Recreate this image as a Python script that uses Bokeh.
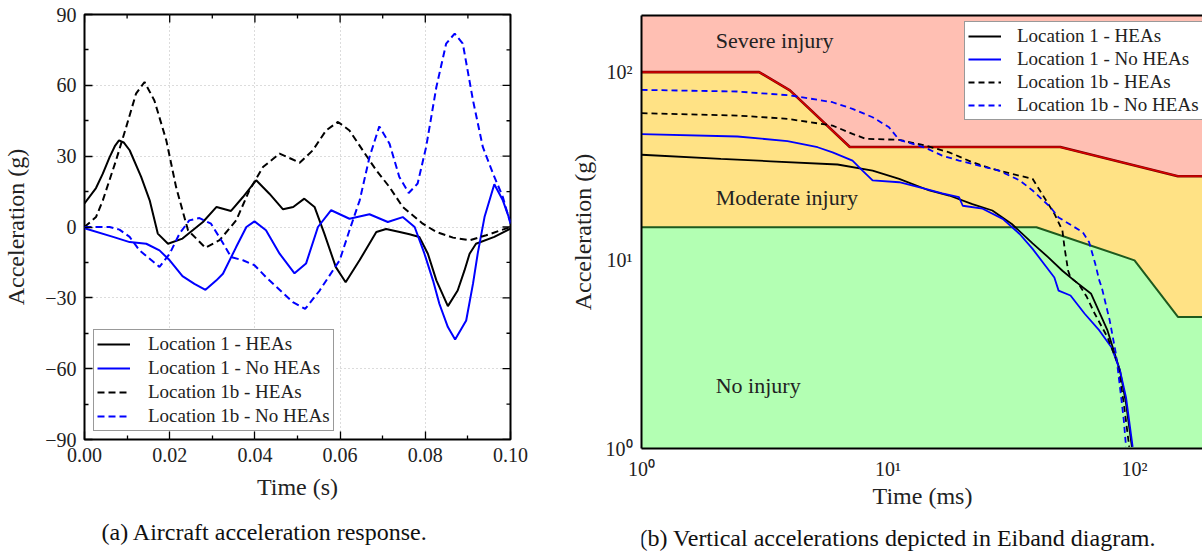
import math
from bokeh.plotting import figure
from bokeh.models import (FixedTicker, CustomJSTickFormatter, LogAxis,
                          Legend, LegendItem, Label)
from bokeh.layouts import row, column
from bokeh.embed import file_html
from bokeh.resources import INLINE

SERIF = "Liberation Serif"

# ---------------- panel (a): acceleration vs time ----------------
series_names = ["Location 1 - HEAs", "Location 1 - No HEAs",
                "Location 1b - HEAs", "Location 1b - No HEAs"]

a_t_l1_heas = [0.0, 0.0027, 0.0043, 0.0059, 0.0072, 0.0081, 0.0092, 0.0106, 0.0133, 0.0153,
               0.0172, 0.0196, 0.023, 0.0278, 0.031, 0.0344, 0.0372, 0.0403, 0.0434, 0.0466,
               0.049, 0.0516, 0.054, 0.0563, 0.059, 0.0613, 0.0646, 0.0685, 0.0708, 0.074,
               0.0763, 0.0786, 0.0806, 0.0826, 0.0853, 0.0876, 0.0892, 0.0904, 0.0919, 0.0962,
               0.1]
a_v_l1_heas = [10.0, 16.5, 22.6, 29.6, 34.5, 36.7, 35.8, 32.5, 21.2, 11.3,
               -2.8, -7.1, -4.9, 2.1, 8.5, 6.8, 12.7, 19.8, 14.1, 7.5,
               8.5, 12.0, 8.5, -2.8, -17.0, -23.4, -14.0, -2.1, -0.85, -2.1,
               -3.1, -4.2, -11.3, -22.6, -33.5, -26.9, -18.4, -11.3, -7.1, -4.2,
               -0.7]

a_t_l1_no = [0.0, 0.0067, 0.0106, 0.0145, 0.0176, 0.02, 0.023, 0.0258, 0.0284, 0.0309,
             0.0325, 0.0356, 0.038, 0.0399, 0.0426, 0.0458, 0.0493, 0.052, 0.0548, 0.0579,
             0.0622, 0.0669, 0.0712, 0.0747, 0.0775, 0.0798, 0.0818, 0.0833, 0.0853, 0.087,
             0.0896, 0.0912, 0.0923, 0.0939, 0.0962, 0.0982, 0.1]
a_v_l1_no = [-0.5, -4.2, -6.4, -7.1, -9.9, -14.1, -20.8, -24.1, -26.6, -22.7,
             -19.8, -8.5, 0.0, 2.4, -1.4, -11.3, -19.6, -15.5, 0.0, 7.1,
             3.5, 5.4, 2.1, 4.2, 0.0, -11.3, -22.6, -32.5, -42.4, -47.6,
             -39.6, -24.0, -11.3, 4.2, 18.1, 11.3, 2.1]

a_t_l1b_heas = [0.0, 0.0027, 0.0043, 0.0074, 0.0098, 0.0121, 0.0141, 0.0164, 0.0192, 0.0215,
                0.0243, 0.0284, 0.0317, 0.0356, 0.0387, 0.0419, 0.0458, 0.0485, 0.0505, 0.0536,
                0.0567, 0.0595, 0.0622, 0.0653, 0.0685, 0.0716, 0.0747, 0.0794, 0.0826, 0.0865,
                0.0904, 0.0943, 0.1]
a_v_l1b_heas = [0.0, 4.2, 11.3, 28.2, 42.4, 56.5, 61.4, 53.6, 36.7, 16.9,
                -1.4, -8.8, -5.6, 2.8, 15.5, 25.4, 31.1, 28.9, 27.2, 32.5,
                40.9, 44.5, 40.9, 32.5, 24.0, 16.9, 8.5, 1.4, -2.1, -4.5,
                -5.6, -3.5, 0.0]

a_t_l1b_no = [0.0, 0.0059, 0.0082, 0.0106, 0.0129, 0.0176, 0.02, 0.0223, 0.0246, 0.027,
              0.0297, 0.0321, 0.0344, 0.0372, 0.0399, 0.0426, 0.0489, 0.0518, 0.0552, 0.0583,
              0.0599, 0.0622, 0.0646, 0.0669, 0.0692, 0.0716, 0.0739, 0.0761, 0.0782, 0.0802,
              0.0826, 0.0849, 0.0869, 0.0888, 0.0912, 0.0935, 0.0959, 0.0982, 0.1]
a_v_l1b_no = [0.0, 0.0, -1.1, -4.2, -9.9, -16.9, -11.3, -2.8, 2.8, 3.8,
              1.4, -5.6, -12.7, -14.1, -16.2, -21.2, -31.8, -34.7, -26.9, -18.4,
              -14.1, -1.4, 11.3, 29.6, 42.6, 35.3, 21.2, 14.4, 18.4, 33.9,
              59.3, 77.7, 81.9, 77.7, 53.6, 33.9, 22.6, 12.7, 1.4]

a_xlim = (0.0, 0.1)
a_ylim = (-90, 90)
a_xticks = [0.0, 0.02, 0.04, 0.06, 0.08, 0.10]
a_xminor = [0.01, 0.03, 0.05, 0.07, 0.09]
a_yticks = [-90, -60, -30, 0, 30, 60, 90]
a_yminor = [-75, -45, -15, 15, 45, 75]

# ---------------- panel (b): Eiband diagram ----------------
b_t_l1_heas = [1, 2.1, 3.35, 6.24, 8.66, 11.1, 14.7, 17.7, 22.0, 26.5, 31.8, 38.6, 44.6, 51,
               57, 66.7, 77.7, 87.3, 92.4, 97.6]
b_a_l1_heas = [36.4, 34.6, 33.6, 32.3, 30.0, 27.1, 23.5, 22.1, 19.9, 18.4, 15.6, 12.3, 10.4, 8.8,
               7.8, 6.64, 4.24, 2.6, 1.73, 1.02]

b_t_l1_no = [1, 2.45, 3.91, 5.18, 5.96, 7.18, 7.88, 8.66, 11.1, 14.2, 16.6, 19.4, 20.1, 24.2,
             29.2, 34.2, 38.6, 47.3, 49.2, 55, 62.8, 72, 80.6, 87.3, 92.4, 98.3]
b_a_l1_no = [46.8, 45.5, 43.0, 39.9, 37.5, 33.9, 30.0, 26.6, 26.0, 24.0, 22.7, 21.7, 19.5, 18.8,
             16.6, 13.8, 11.5, 8.1, 6.9, 6.5, 5.2, 4.24, 3.45, 2.6, 1.87, 1.02]

b_t_l1b_heas = [1, 2.45, 3.91, 5.96, 7.18, 8.13, 11.1, 14.2, 17.7, 22, 26.5, 31.8, 38.6, 42.1,
                47.3, 51, 52, 53.8, 55, 59.3, 64, 69, 77.7, 85.6, 90.5, 95.2]
b_a_l1b_heas = [60.5, 58.8, 56.5, 52.0, 47.0, 44.2, 43.7, 40.7, 37.5, 33.2, 30.6, 28.8, 27.1, 22.6,
                17.7, 14.4, 11.7, 8.8, 8.1, 7.5, 6.4, 5.2, 3.9, 2.82, 1.73, 1.02]

b_t_l1b_no = [1, 2.45, 4.03, 5.96, 7.18, 8.66, 10.1, 11.1, 12.6, 14.2, 16.6, 19.4, 23.4, 28.1,
              34.2, 38.6, 45.5, 49.2, 61.7, 65.4, 69.3, 72, 73.6, 79.3, 84.1, 87.3, 90.5, 92.4]
b_a_l1b_no = [80.5, 78.9, 75.2, 69.2, 63.8, 57.6, 50.9, 43.7, 41.6, 39.6, 36.0, 33.9, 31.9, 30.0,
              26.6, 23.5, 19.2, 16.9, 14.1, 12.5, 9.6, 7.8, 7.2, 4.8, 3.18, 2.12, 1.41, 1.02]

# Eiband boundaries
severe_t = [1, 3, 4, 7, 50, 150, 300]
severe_a = [100, 100, 80, 40, 40, 28, 28]
moderate_t = [1, 40, 100, 150, 300]
moderate_a = [15, 15, 10, 5, 5]
b_xlim = (1, 190.5)
b_ylim = (1, 200)
b_ticks = [1, 10, 100]

zone_labels = ["Severe injury", "Moderate injury", "No injury"]
captions = ["(a) Aircraft acceleration response.",
            "(b) Vertical accelerations depicted in Eiband diagram."]

colors = ["black", "#0000ff", "black", "#0000ff"]
dashes = ["solid", "solid", "7 4", "7 4"]

# ================= figure (a) =================
pa = figure(frame_width=426, frame_height=425, x_range=a_xlim, y_range=a_ylim,
            min_border_left=82, min_border_right=52, min_border_top=14, min_border_bottom=71,
            toolbar_location=None, output_backend="svg",
            outline_line_color="black", outline_line_width=2, background_fill_color="white")

tick_fmt_x = CustomJSTickFormatter(code="return tick.toFixed(2);")
tick_fmt_y = CustomJSTickFormatter(
    code="return tick < 0 ? '\u2212' + Math.abs(tick).toFixed(0) : tick.toFixed(0);")

for ax, ticks, minor, fmt in ((pa.xaxis[0], a_xticks, a_xminor, tick_fmt_x),
                              (pa.yaxis[0], a_yticks, a_yminor, tick_fmt_y)):
    ax.ticker = FixedTicker(ticks=ticks, minor_ticks=minor)
    ax.formatter = fmt
    ax.major_tick_in = 8
    ax.major_tick_out = 0
    ax.minor_tick_in = 4
    ax.minor_tick_out = 0
    ax.major_tick_line_color = "black"
    ax.minor_tick_line_color = "black"
    ax.major_tick_line_width = 1.3
    ax.minor_tick_line_width = 1.3
    ax.axis_line_color = None
    ax.major_label_text_font = SERIF
    ax.major_label_text_font_size = "20px"
    ax.major_label_text_color = "#222222"
    ax.major_label_standoff = 8
    ax.axis_label_text_font = SERIF
    ax.axis_label_text_font_size = "24px"
    ax.axis_label_text_font_style = "normal"
    ax.axis_label_text_color = "#222222"
pa.xaxis[0].axis_label = "Time (s)"
pa.yaxis[0].axis_label = "Acceleration (g)"
pa.xaxis[0].axis_label_standoff = 9
pa.yaxis[0].axis_label_standoff = 13

# mirrored inward ticks on top and right edges (half of each marker is clipped by the frame)
n_xt, n_xm = len(a_xticks), len(a_xminor)
n_yt, n_ym = len(a_yticks), len(a_yminor)
pa.scatter(a_xticks, [a_ylim[1]] * n_xt, marker="dash", angle=math.pi / 2, size=16,
           line_color="black", line_width=1.3)
pa.scatter(a_xminor, [a_ylim[1]] * n_xm, marker="dash", angle=math.pi / 2, size=8,
           line_color="black", line_width=1.3)
pa.scatter([a_xlim[1]] * n_yt, a_yticks, marker="dash", angle=0, size=16,
           line_color="black", line_width=1.3)
pa.scatter([a_xlim[1]] * n_ym, a_yminor, marker="dash", angle=0, size=8,
           line_color="black", line_width=1.3)

pa.xgrid.ticker = FixedTicker(ticks=a_xticks)
pa.ygrid.ticker = FixedTicker(ticks=a_yticks)
for g in (pa.xgrid, pa.ygrid):
    g.grid_line_color = "#b8b8b8"
    g.grid_line_dash = "1 3"
    g.grid_line_width = 1

a_series = [(a_t_l1_heas, a_v_l1_heas), (a_t_l1_no, a_v_l1_no),
            (a_t_l1b_heas, a_v_l1b_heas), (a_t_l1b_no, a_v_l1b_no)]
a_items = []
for (xs, ys), name, c, d in zip(a_series, series_names, colors, dashes):
    r = pa.line(xs, ys, line_color=c, line_width=2, line_dash=d)
    a_items.append(LegendItem(label=name, renderers=[r]))

leg_a = Legend(items=a_items, location=(9, 8), label_text_font=SERIF, label_text_font_size="19px",
               label_text_color="#222222", label_height=22, glyph_height=22, glyph_width=33,
               label_standoff=18, spacing=2, padding=3, margin=0,
               border_line_color="#333333", border_line_width=1, background_fill_alpha=1)
pa.add_layout(leg_a)

# ================= figure (b) =================
pb = figure(frame_width=562, frame_height=433, x_axis_type="log", y_axis_type="log",
            x_range=b_xlim, y_range=b_ylim,
            min_border_left=79, min_border_right=0, min_border_top=15, min_border_bottom=64,
            toolbar_location=None, output_backend="svg", outline_line_color=None)
pb.xgrid.visible = False
pb.ygrid.visible = False

log_fmt = CustomJSTickFormatter(code="""
const sup = {'0': '\u2070', '1': '\u00b9', '2': '\u00b2', '3': '\u00b3'};
const e = Math.round(Math.log10(tick));
return '10' + sup[String(e)];
""")

for ax in (pb.xaxis[0], pb.yaxis[0]):
    ax.ticker = FixedTicker(ticks=b_ticks, minor_ticks=[])
    ax.formatter = log_fmt
    ax.major_tick_in = 0
    ax.major_tick_out = 0
    ax.minor_tick_in = 0
    ax.minor_tick_out = 0
    ax.axis_line_color = "black"
    ax.axis_line_width = 2
    ax.major_label_text_font = SERIF
    ax.major_label_text_font_size = "20px"
    ax.major_label_text_color = "#222222"
    ax.major_label_standoff = 9
    ax.axis_label_text_font = SERIF
    ax.axis_label_text_font_size = "24px"
    ax.axis_label_text_font_style = "normal"
    ax.axis_label_text_color = "#222222"
pb.xaxis[0].axis_label = "Time (ms)"
pb.yaxis[0].axis_label = "Acceleration (g)"
pb.xaxis[0].axis_label_standoff = 0
pb.yaxis[0].axis_label_standoff = 7

# top border: an axis with no ticks
top_b = LogAxis(ticker=FixedTicker(ticks=[], minor_ticks=[]), axis_line_color="black",
                axis_line_width=2, major_tick_in=0, major_tick_out=0,
                minor_tick_in=0, minor_tick_out=0, major_label_standoff=0)
pb.add_layout(top_b, "above")

# zone fills
sev_x = severe_t + [severe_t[-1], severe_t[0]]
sev_y = severe_a + [b_ylim[1] * 2, b_ylim[1] * 2]
mod_x = severe_t + moderate_t[::-1]
mod_y = severe_a + moderate_a[::-1]
no_x = moderate_t + [moderate_t[-1], moderate_t[0]]
no_y = moderate_a + [b_ylim[0] * 0.5, b_ylim[0] * 0.5]
pb.patch(sev_x, sev_y, fill_color="#ffbfb3", line_color=None)
pb.patch(mod_x, mod_y, fill_color="#ffe285", line_color=None)
pb.patch(no_x, no_y, fill_color="#b3ffb3", line_color=None)

pb.line(moderate_t, moderate_a, line_color="#1e5a1e", line_width=2)
pb.line(severe_t, severe_a, line_color="#7a0000", line_width=2.6)
pb.line(severe_t, severe_a, line_color="#e00000", line_width=1.3)

b_series = [(b_t_l1_heas, b_a_l1_heas), (b_t_l1_no, b_a_l1_no),
            (b_t_l1b_heas, b_a_l1b_heas), (b_t_l1b_no, b_a_l1b_no)]
b_items = []
for (xs, ys), name, c, d in zip(b_series, series_names, colors, dashes):
    r = pb.line(xs, ys, line_color=c, line_width=1.8, line_dash=("6 4" if d != "solid" else d))
    b_items.append(LegendItem(label=name, renderers=[r]))

label_pos = [(2.0, 147), (2.0, 21.6), (2.0, 2.16)]
for txt, (lx, ly) in zip(zone_labels, label_pos):
    pb.add_layout(Label(x=lx, y=ly, text=txt, text_baseline="middle", text_align="left",
                        text_font=SERIF, text_font_size="22px", text_color="#222222"))

leg_b = Legend(items=b_items, location=(323, 328), label_text_font=SERIF, label_text_font_size="19px",
               label_text_color="#222222", label_height=22, glyph_height=22, glyph_width=33,
               label_standoff=16, spacing=1, padding=3, margin=0,
               border_line_color="#333333", border_line_width=1, background_fill_alpha=1)
pb.add_layout(leg_b)


# ================= caption strips =================
# each strip uses the same borders/frame width as the panel above it, since the
# column layout aligns the frames; coordinates are pixels from the frame's left edge
def caption_strip(frame_w, border_l, border_r, height, text, x, y):
    c = figure(frame_width=frame_w, frame_height=height, x_range=(0, frame_w), y_range=(0, height),
               x_axis_location=None, y_axis_location=None,
               min_border_left=border_l, min_border_right=border_r,
               min_border_top=0, min_border_bottom=0,
               toolbar_location=None, output_backend="svg",
               outline_line_color=None, background_fill_color="white")
    c.grid.visible = False
    c.add_layout(Label(x=x, y=y, text=text, text_baseline="middle", text_align="left",
                       text_font=SERIF, text_font_size="24px", text_color="#111111"))
    return c


cap_a = caption_strip(426, 82, 52, 42, captions[0], 17, 21)
cap_b = caption_strip(562, 79, 0, 40, captions[1], -2, 15)

layout = row(column(pa, cap_a, spacing=0), column(pb, cap_b, spacing=0), spacing=0)
open("out.html", "w").write(file_html(layout, INLINE))
